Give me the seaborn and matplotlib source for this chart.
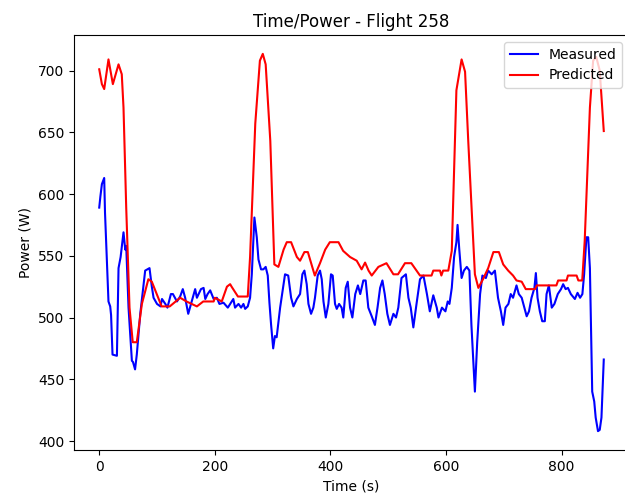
import matplotlib
matplotlib.use("Agg")
import matplotlib.pyplot as plt
import seaborn as sns
import pandas as pd

# measured power
meas_t = [0, 2, 4.6, 8.6, 10, 13, 16, 19, 20.5, 23, 30.6, 33.4, 37, 42, 45, 46.7, 50.7, 56.5, 58.4, 62, 65,
          71, 76, 79.5, 87, 91, 94, 100, 106, 108.6, 114.4, 118, 124, 127.5, 134.5, 140, 144.6, 148.7, 154,
          160, 166, 169, 172, 176, 180.6, 183.5, 187.5, 192, 198, 203.5, 208, 215, 222.5, 226.5, 232, 235,
          241, 245.5, 249.5, 252.5, 257, 261, 264, 268.5, 272.6, 275.5, 280, 284, 288, 291.6, 294.5, 297.4,
          301, 304, 307, 313, 319, 321.5, 327, 332, 336, 342, 347.5, 351.5, 355, 359, 362, 366.5, 370.5,
          373.3, 378, 382, 385, 388, 392, 396.5, 401, 404, 408, 411, 415, 419.4, 422.3, 426.5, 430, 434,
          438, 443, 447.6, 451.6, 457, 461, 465.6, 471.5, 477, 481.5, 486, 490, 494, 498.5, 503, 509,
          513.5, 517.5, 523, 530.6, 535, 539, 543.5, 549, 555, 561, 567, 572, 578, 584, 587, 593, 599,
          603, 606, 610, 614, 618, 620, 623, 627, 631, 636, 640.5, 644, 650, 654, 659, 663, 669, 673, 679,
          684.6, 690, 695, 699, 703, 708, 712, 716, 722, 726, 731, 735.5, 739.6, 743.6, 748, 753, 755.5,
          758.4, 762.4, 766.5, 771, 774, 778, 783, 787.6, 793.4, 799, 802.7, 807, 811, 816, 823, 827.6,
          832, 836, 839, 843, 846, 849, 853, 856.5, 859, 863, 866, 869, 873]
meas_p = [589, 598, 608, 613, 585, 549, 513, 509, 502, 470, 469, 540, 549, 569, 555, 558, 508, 465, 464, 458, 470,
          503, 524, 538, 540, 525, 516, 511, 509, 515, 511, 508, 519, 519, 513, 517, 523, 516, 503,
          513, 523, 516, 519, 523, 524, 515, 519, 522, 515, 516, 511, 512, 508, 511, 515, 508,
          511, 508, 511, 507, 509, 516, 535, 581, 565, 547, 539, 539, 541, 534, 512, 494,
          475, 485, 484, 508, 527, 535, 534, 516, 509, 515, 519, 535, 538, 527, 511, 503, 508,
          516, 534, 538, 531, 513, 500, 511, 535, 534, 511, 507, 511, 508, 500, 524, 529, 508,
          500, 519, 526, 519, 530, 530, 508, 501, 494, 508, 524, 530, 519, 503, 494, 503,
          500, 508, 532, 535, 516, 508, 492, 511, 531, 534, 519, 505, 518, 508, 500, 508, 505,
          513, 511, 524, 549, 561, 575, 555, 532, 538, 541, 538, 494, 440, 480, 519, 534, 532, 538, 535,
          538, 516, 505, 494, 508, 511, 519, 516, 526, 519, 516, 508, 501, 505, 516, 524, 536,
          516, 505, 497, 497, 519, 526, 508, 511, 519, 523, 527, 523, 524, 519, 515, 520,
          516, 519, 535, 565, 565, 540, 440, 432, 419, 408, 409, 419, 466]

# predicted power
pred_t = [0, 4.6, 8.6, 16, 23.6, 33.4, 39, 42, 46.7, 52.4, 58, 65, 73.8, 85, 91, 108, 122, 140, 151, 169, 180,
          198, 200, 212, 221, 226.5, 229, 240, 257, 261, 270, 278, 283, 288, 296, 303, 310, 319, 324.5,
          332, 342, 347.5, 355, 361, 373, 382, 391, 399, 414, 422, 434, 445.5, 454, 460, 466, 471.5,
          483, 497, 509, 517, 529, 540, 549, 555, 575, 578, 589.6, 592, 595, 604, 610, 618, 627, 633,
          638.5, 650, 656, 664, 673, 682, 691.5, 699, 707.6, 716, 722, 731, 738, 754, 757, 791, 794,
          808.6, 811, 826, 829, 835.7, 840, 849, 854.6, 860, 866, 873]
pred_p = [701, 689, 685, 709, 689, 705, 697, 670, 589, 508, 480, 480, 511, 531, 529, 509, 509, 516, 513, 509, 513,
          513, 516, 513, 525, 527, 525, 517, 517, 549, 657, 708, 713.5, 705, 643, 543, 541, 555, 561,
          561, 549, 546, 553, 553, 534, 544, 555, 561, 561, 554, 549, 546, 539, 544.5, 538, 534,
          541, 544, 535, 535, 544, 544, 538, 534, 534, 538, 538, 534, 538, 538, 554, 684, 709, 699,
          643, 535, 524, 531, 540, 553, 553, 543, 538, 534, 530, 529, 523, 523, 526, 526, 530,
          530, 534, 534, 530, 530, 562, 670, 708, 711, 700, 651]

measured = pd.DataFrame({"Time (s)": meas_t, "Power (W)": meas_p})
predicted = pd.DataFrame({"Time (s)": pred_t, "Power (W)": pred_p})

fig = plt.figure(figsize=(6.25, 5), dpi=100)
ax = fig.add_axes([74 / 625, 50 / 500, 555 / 625, 415 / 500])

sns.lineplot(data=measured, x="Time (s)", y="Power (W)", color="blue", label="Measured", ax=ax)
sns.lineplot(data=predicted, x="Time (s)", y="Power (W)", color="red", label="Predicted", ax=ax)

ax.set_title("Time/Power - Flight 258")
ax.legend(loc="upper right")

fig.savefig("out.png", dpi=100)
